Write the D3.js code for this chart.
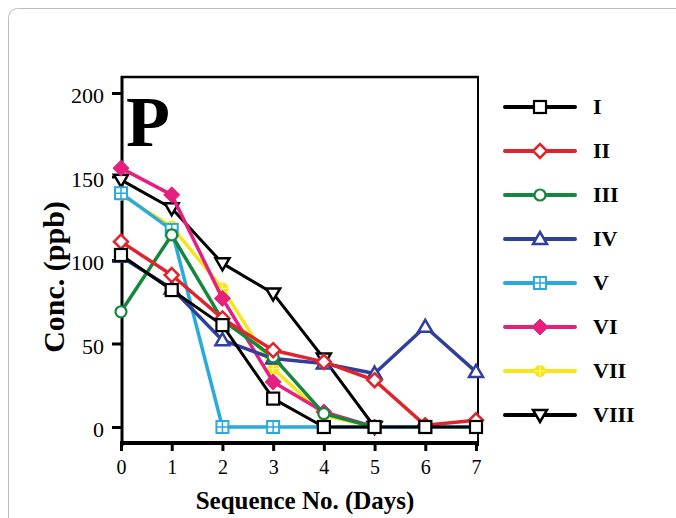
<!DOCTYPE html>
<html>
<head>
<meta charset="utf-8">
<script src="https://cdn.jsdelivr.net/npm/d3@7"></script>
<style>
  body { margin: 0; background: #fff; }
  svg { display: block; }
</style>
</head>
<body>
<div id="chart"></div>
<script>
// days on the x axis
const days = [0, 1, 2, 3, 4, 5, 6, 7];
const yTicks = [0, 50, 100, 150, 200];

// concentration (ppb) per series, one value per day
const seriesI    = [103, 82, 61, 17, 0, 0, 0, 0];
const seriesII   = [111, 91, 65, 46, 39, 28, 1, 4];
const seriesIII  = [69, 115, 64, 42, 8, 0];
const seriesIV   = [102, 83, 52, 41, 38, 32, 60, 33];
const seriesV    = [140, 118, 0, 0, 0, 0, 0, 0];
const seriesVI   = [155, 139, 77, 27, 9, 0];
const seriesVII  = [139, 120, 83, 35, 7, 0];
const seriesVIII = [148, 131, 98, 80, 41, 0];

const names = ["I", "II", "III", "IV", "V", "VI", "VII", "VIII"];
const colors = ["#000000", "#e0242b", "#14873e", "#2e3f9e", "#29a9dc", "#e5207f", "#f7e616", "#000000"];
const symbols = ["square", "diamondOpen", "circleOpen", "triangle", "squareCross", "diamond", "circleCross", "triangleDown"];
const allSeries = [seriesI, seriesII, seriesIII, seriesIV, seriesV, seriesVI, seriesVII, seriesVIII];

const width = 676, height = 518;
const serif = "'Liberation Serif', 'Times New Roman', serif";

const x = d3.scaleLinear().domain([0, 7]).range([121, 476]);
const y = d3.scaleLinear().domain([0, 200]).range([427, 93]);

const svg = d3.create("svg").attr("width", width).attr("height", height);

// outer frame (rounded, cut off by the page)
svg.append("rect")
  .attr("x", 8.5).attr("y", 8.5)
  .attr("width", 720).attr("height", 560)
  .attr("rx", 9)
  .attr("fill", "none")
  .attr("stroke", "#bdbdbd")
  .attr("stroke-width", 1);

// plot box
svg.append("line").attr("x1", 121).attr("x2", 479).attr("y1", 77).attr("y2", 77)
  .attr("stroke", "#000").attr("stroke-width", 2.5);
svg.append("line").attr("x1", 478).attr("x2", 478).attr("y1", 76).attr("y2", 446)
  .attr("stroke", "#000").attr("stroke-width", 2);
svg.append("line").attr("x1", 122).attr("x2", 122).attr("y1", 76).attr("y2", 446)
  .attr("stroke", "#000").attr("stroke-width", 3);
svg.append("line").attr("x1", 120).attr("x2", 478).attr("y1", 443).attr("y2", 443)
  .attr("stroke", "#000").attr("stroke-width", 4);

// y axis ticks
const yAxis = svg.append("g")
  .attr("transform", "translate(122,0)")
  .call(d3.axisLeft(y).tickValues(yTicks).tickSize(10).tickPadding(8));
yAxis.select(".domain").remove();
yAxis.selectAll("line").attr("stroke-width", 3);
yAxis.selectAll("text")
  .attr("font-family", serif)
  .attr("font-size", 22).attr("fill", "#000")
  .attr("dy", "0.45em");

// x axis ticks
const xAxis = svg.append("g")
  .attr("transform", "translate(0,443)")
  .call(d3.axisBottom(x).tickValues(days).tickFormat(d3.format("d")).tickSize(8).tickPadding(9));
xAxis.select(".domain").remove();
xAxis.selectAll("line").attr("stroke-width", 3);
xAxis.selectAll("text")
  .attr("font-family", serif)
  .attr("font-size", 20).attr("fill", "#000");

// axis titles
svg.append("text")
  .attr("x", 305).attr("y", 509)
  .attr("text-anchor", "middle")
  .attr("font-family", serif)
  .attr("font-weight", "bold").attr("font-size", 25)
  .text("Sequence No. (Days)");

svg.append("text")
  .attr("transform", "translate(64,277) rotate(-90)")
  .attr("text-anchor", "middle")
  .attr("font-family", serif)
  .attr("font-weight", "bold").attr("font-size", 30)
  .text("Conc. (ppb)");

// panel letter
svg.append("text")
  .attr("x", 126).attr("y", 146)
  .attr("font-family", serif)
  .attr("font-weight", "bold").attr("font-size", 72)
  .text("P");

// marker drawing
function drawMarker(g, kind, color) {
  const s = 6;
  if (kind === "square") {
    g.append("rect").attr("x", -s).attr("y", -s).attr("width", 2 * s).attr("height", 2 * s)
      .attr("fill", "#fff").attr("stroke", color).attr("stroke-width", 2.2);
  } else if (kind === "squareCross") {
    g.append("rect").attr("x", -s).attr("y", -s).attr("width", 2 * s).attr("height", 2 * s)
      .attr("fill", "#fff").attr("stroke", color).attr("stroke-width", 2);
    g.append("path").attr("d", `M0,${-s}V${s}M${-s},0H${s}`).attr("stroke", color).attr("stroke-width", 1.5);
  } else if (kind === "diamondOpen") {
    g.append("path").attr("d", `M0,${-s - 1}L${s + 1},0L0,${s + 1}L${-s - 1},0Z`)
      .attr("fill", "#fff").attr("stroke", color).attr("stroke-width", 2.5);
  } else if (kind === "diamond") {
    g.append("path").attr("d", `M0,${-s - 2}L${s + 2},0L0,${s + 2}L${-s - 2},0Z`)
      .attr("fill", color).attr("stroke", color).attr("stroke-width", 1);
  } else if (kind === "circleOpen") {
    g.append("circle").attr("r", s - 0.5)
      .attr("fill", "#fff").attr("stroke", color).attr("stroke-width", 2.2);
  } else if (kind === "circleCross") {
    g.append("circle").attr("r", s).attr("fill", color);
    g.append("path").attr("d", `M0,${-s + 1}V${s - 1}M${-s + 1},0H${s - 1}`).attr("stroke", "#fff8a0").attr("stroke-width", 1);
  } else if (kind === "triangle") {
    g.append("path").attr("d", `M0,${-s - 1}L${s + 1},${s - 1}L${-s - 1},${s - 1}Z`)
      .attr("fill", "#fff").attr("stroke", color).attr("stroke-width", 2.5);
  } else if (kind === "triangleDown") {
    g.append("path").attr("d", `M0,${s + 1}L${s + 1},${-s + 1}L${-s - 1},${-s + 1}Z`)
      .attr("fill", "#fff").attr("stroke", color).attr("stroke-width", 2.5);
  }
}

const line = d3.line()
  .x((d, i) => x(days[i]))
  .y(d => y(d));

// draw series, last first so series I sits on top
const order = [7, 6, 5, 4, 3, 2, 1, 0];
order.forEach(k => {
  const data = allSeries[k];
  const g = svg.append("g");
  g.append("path")
    .attr("d", line(data))
    .attr("fill", "none")
    .attr("stroke", colors[k])
    .attr("stroke-width", k === 0 || k === 7 ? 3 : 3.5)
    .attr("stroke-linejoin", "round");
  data.forEach((v, i) => {
    const m = g.append("g").attr("transform", `translate(${x(days[i])},${y(v)})`);
    drawMarker(m, symbols[k], colors[k]);
  });
});

// legend
const legend = svg.append("g");
names.forEach((name, k) => {
  const ly = 107 + k * 44;
  const row = legend.append("g").attr("transform", `translate(0,${ly})`);
  row.append("line")
    .attr("x1", 505).attr("x2", 575)
    .attr("stroke", colors[k]).attr("stroke-width", 4)
    .attr("stroke-linecap", "round");
  const m = row.append("g").attr("transform", "translate(540,0)");
  drawMarker(m, symbols[k], colors[k]);
  row.append("text")
    .attr("x", 593).attr("y", 7)
    .attr("font-family", serif)
    .attr("font-weight", "bold").attr("font-size", 22)
    .text(name);
});

document.getElementById("chart").append(svg.node());
</script>
</body>
</html>
